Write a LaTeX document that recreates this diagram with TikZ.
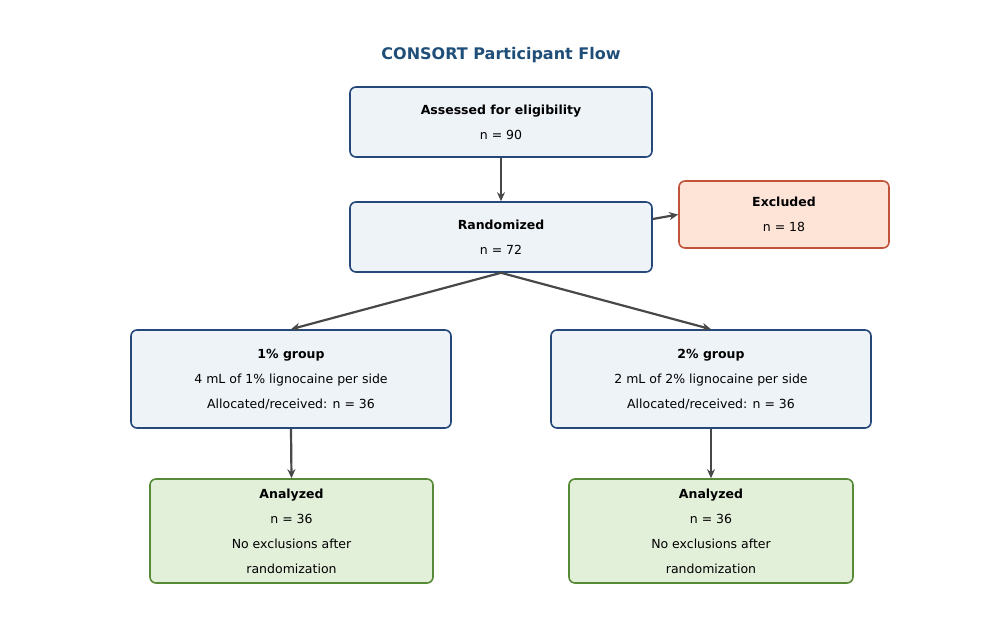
\documentclass[tikz,border=0pt]{standalone}
\usepackage{fontspec}
\setmainfont{DejaVu Sans}
\usetikzlibrary{arrows.meta}
\definecolor{bluefill}{HTML}{EEF3F8}
\definecolor{blueline}{HTML}{24487A}
\definecolor{redfill}{HTML}{FDE4D7}
\definecolor{redline}{HTML}{C0533A}
\definecolor{greenfill}{HTML}{E2EFD9}
\definecolor{greenline}{HTML}{578A36}
\definecolor{titlecol}{HTML}{1F4E79}
\definecolor{arr}{HTML}{484848}
\begin{document}
\begin{tikzpicture}[x=1pt,y=-1pt,
  box/.style={draw=blueline,fill=bluefill,line width=1.6pt,rounded corners=6pt,align=center,font=\fontsize{12.5}{25}\selectfont,inner sep=0pt},
  redbox/.style={box,draw=redline,fill=redfill},
  greenbox/.style={box,draw=greenline,fill=greenfill},
  conn/.style={draw=arr,line width=2.2pt,-{Stealth[length=9pt,width=8pt]}}]
\useasboundingbox (0,0) rectangle (986,623);
\node[font=\fontsize{16}{20}\selectfont\bfseries,text=titlecol] (title) at (501,55) {CONSORT Participant Flow};
\node[box,minimum width=302pt,minimum height=70pt] (assess) at (501,122) {\textbf{Assessed for eligibility}\\n = 90};
\node[box,minimum width=302pt,minimum height=70pt] (rand) at (501,237) {\textbf{Randomized}\\n = 72};
\node[redbox,minimum width=210pt,minimum height=67pt] (excl) at (784,214.5) {\textbf{Excluded}\\n = 18};
\node[box,minimum width=320pt,minimum height=98pt] (g1) at (291,379) {\textbf{1\% group}\\4 mL of 1\% lignocaine per side\\Allocated/received: n = 36};
\node[box,minimum width=320pt,minimum height=98pt] (g2) at (711,379) {\textbf{2\% group}\\2 mL of 2\% lignocaine per side\\Allocated/received: n = 36};
\node[greenbox,minimum width=283pt,minimum height=104pt] (a1) at (291.5,531) {\textbf{Analyzed}\\n = 36\\No exclusions after\\randomization};
\node[greenbox,minimum width=284pt,minimum height=104pt] (a2) at (711,531) {\textbf{Analyzed}\\n = 36\\No exclusions after\\randomization};
\draw[conn] (assess.south) -- (rand.north);
\draw[conn] (rand.east) ++(0,-18) coordinate (re) -- (excl.west);
\draw[conn] (rand.south) -- (g1.north);
\draw[conn] (rand.south) -- (g2.north);
\draw[conn] (g1.south) -- (a1.north);
\draw[conn] (g2.south) -- (a2.north);
\end{tikzpicture}
\end{document}
